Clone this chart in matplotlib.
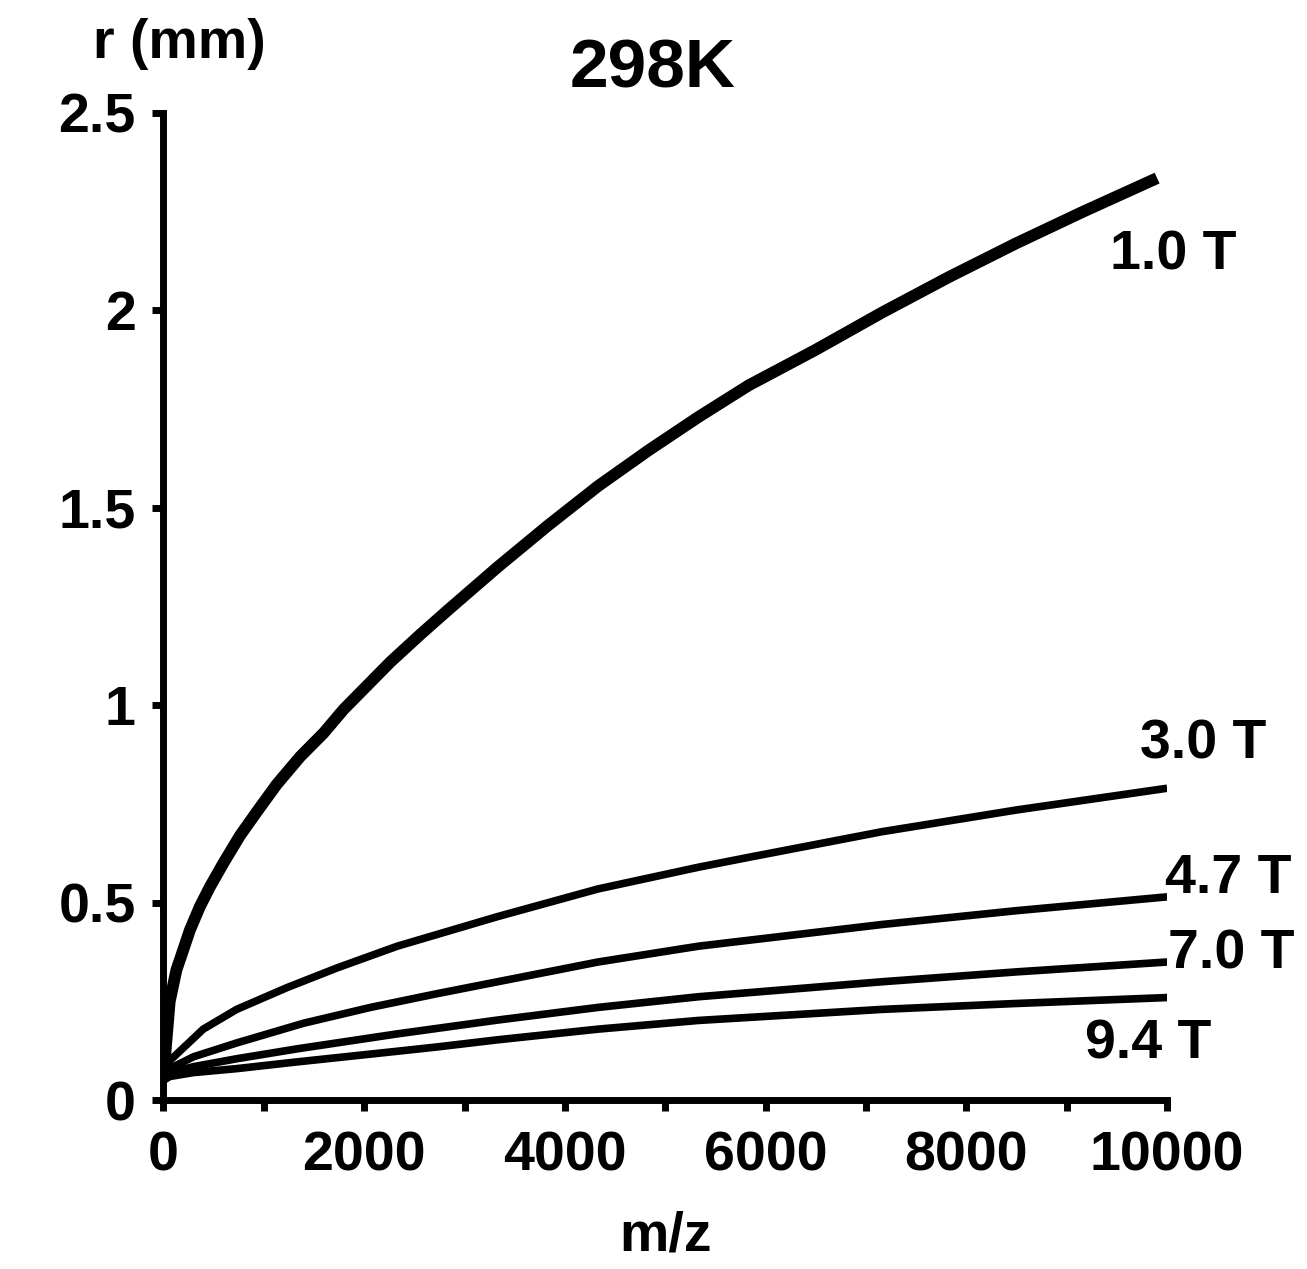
import matplotlib
matplotlib.use("Agg")
import matplotlib.pyplot as plt

plt.rc('font', family=['Liberation Sans', 'DejaVu Sans'], weight='bold')

# values (m/z, r in mm)
mz_1_0 = [0, 63, 130, 197, 263, 363, 463, 597, 763, 930, 1130, 1363, 1597,
          1797, 2030, 2263, 2563, 2830, 3330, 3830, 4330, 4830, 5330, 5830,
          6497, 7163, 7830, 8497, 9163, 9900]
r_1_0 = [0.06, 0.25, 0.33, 0.38, 0.43, 0.49, 0.54, 0.60, 0.67, 0.73, 0.80,
         0.87, 0.93, 0.99, 1.05, 1.11, 1.18, 1.24, 1.35, 1.455, 1.555, 1.645,
         1.73, 1.81, 1.90, 1.995, 2.085, 2.17, 2.25, 2.335]

mz_3_0 = [0, 63, 397, 730, 1230, 1730, 2330, 3330, 4330, 5330, 5830, 7160,
          8500, 10000]
r_3_0 = [0.05, 0.10, 0.18, 0.23, 0.285, 0.335, 0.39, 0.465, 0.535, 0.59,
         0.615, 0.68, 0.735, 0.79]

mz_4_7 = [0, 63, 300, 730, 1397, 2063, 2730, 3330, 4330, 5330, 7160, 8500,
          10000]
r_4_7 = [0.05, 0.08, 0.11, 0.145, 0.195, 0.235, 0.27, 0.30, 0.35, 0.39,
         0.445, 0.48, 0.515]

mz_7_0 = [0, 63, 300, 730, 1330, 2330, 2730, 3330, 4330, 5330, 7160, 8500,
          10000]
r_7_0 = [0.05, 0.07, 0.085, 0.105, 0.13, 0.168, 0.182, 0.203, 0.235, 0.262,
         0.30, 0.325, 0.35]

mz_9_4 = [0, 63, 300, 730, 1330, 2330, 2730, 3330, 4330, 5330, 7160, 8500,
          10000]
r_9_4 = [0.05, 0.06, 0.07, 0.08, 0.097, 0.124, 0.135, 0.153, 0.18, 0.202,
         0.23, 0.245, 0.26]

series = [
    (mz_1_0, r_1_0, "1.0 T", 8.5, (9430, 2.14)),
    (mz_3_0, r_3_0, "3.0 T", 5.5, (9730, 0.90)),
    (mz_4_7, r_4_7, "4.7 T", 5.5, (9980, 0.56)),
    (mz_7_0, r_7_0, "7.0 T", 5.5, (10010, 0.37)),
    (mz_9_4, r_9_4, "9.4 T", 5.5, (9180, 0.14)),
]

y_ticks = [0, 0.5, 1, 1.5, 2, 2.5]
y_ticklabels = ["0", "0.5", "1", "1.5", "2", "2.5"]
x_ticks = [0, 2000, 4000, 6000, 8000, 10000]
x_minor = [1000, 3000, 5000, 7000, 9000]

fig = plt.figure(figsize=(13.07, 12.69), dpi=100)
ax = fig.add_axes([0.125, 0.133, 0.768, 0.778])

for mz, r, name, lw, pos in series:
    ax.plot(mz, r, color='black', lw=lw, solid_capstyle='butt',
            solid_joinstyle='round')
    ax.text(pos[0], pos[1], name, fontsize=40, fontweight='bold',
            ha='left', va='center', clip_on=False)

ax.set_xlim(0, 10000)
ax.set_ylim(0, 2.5)
ax.spines['top'].set_visible(False)
ax.spines['right'].set_visible(False)
for s in ['left', 'bottom']:
    ax.spines[s].set_linewidth(5)

ax.set_xticks(x_ticks)
ax.set_xticks(x_minor, minor=True)
ax.set_yticks(y_ticks, y_ticklabels)
ax.tick_params(which='both', direction='out', length=8, width=5,
               labelsize=40, color='black')
ax.tick_params(axis='x', pad=14)
ax.tick_params(axis='y', pad=12)

ax.set_xlabel("m/z", fontsize=40, fontweight='bold', labelpad=20)
fig.text(0.137, 0.965, "r (mm)", fontsize=40, fontweight='bold',
         ha='center', va='center')
fig.text(0.499, 0.945, "298K", fontsize=50, fontweight='bold',
         ha='center', va='center')

fig.savefig("out.png", dpi=100)
